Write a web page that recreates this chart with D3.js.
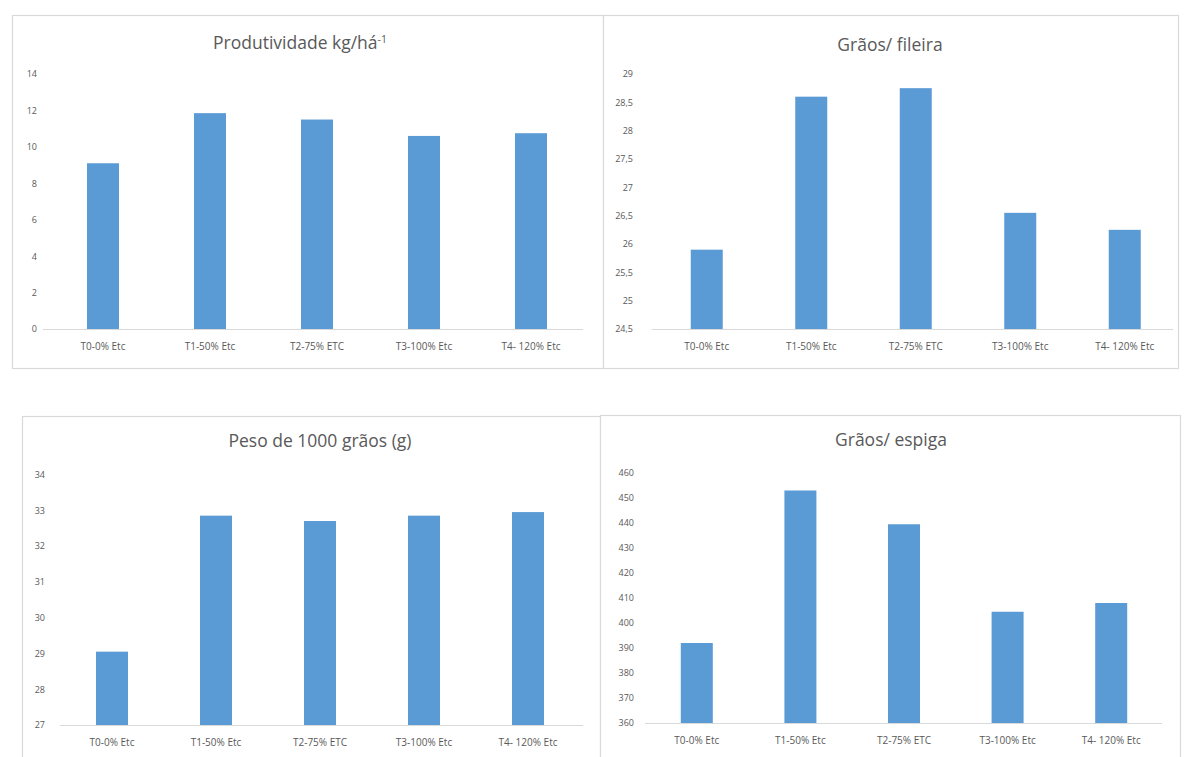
<!DOCTYPE html>
<html>
<head>
<meta charset="utf-8">
<script src="https://cdn.jsdelivr.net/npm/d3@7"></script>
<style>
  html, body { margin: 0; padding: 0; background: #ffffff; }
  svg { display: block; }
  text { font-family: "Open Sans", "Liberation Sans", sans-serif; }
</style>
</head>
<body>
<svg id="chart" width="1184" height="757"></svg>
<script>
// ---- data ----
const categories = ["T0-0% Etc", "T1-50% Etc", "T2-75% ETC", "T3-100% Etc", "T4- 120% Etc"];

const produtividade = [9.1, 11.85, 11.5, 10.6, 10.75];
const graosFileira  = [25.9, 28.6, 28.75, 26.55, 26.25];
const peso1000      = [29.05, 32.85, 32.7, 32.85, 32.95];
const graosEspiga   = [392, 453, 439.5, 404.5, 408];

const ticksProdutividade = [0, 2, 4, 6, 8, 10, 12, 14];
const ticksFileira       = [24.5, 25, 25.5, 26, 26.5, 27, 27.5, 28, 28.5, 29];
const ticksPeso          = [27, 28, 29, 30, 31, 32, 33, 34];
const ticksEspiga        = [360, 370, 380, 390, 400, 410, 420, 430, 440, 450, 460];

const titles = ["Produtividade kg/há", "Grãos/ fileira", "Peso de 1000 grãos (g)", "Grãos/ espiga"];

// ---- layout ----
const svg = d3.select("#chart");
const barColor = "#5b9bd5";
const gridColor = "#d9d9d9";
const textColor = "#595959";
const commaFmt = d => String(d).replace(".", ",");

const panels = [
  { values: produtividade, ticks: ticksProdutividade, title: titles[0], sup: "-1",
    box: [12, 15, 603, 368], titleX: 300, titleY: 49,
    xr: [49.5, 584.5], yr: [329, 74], baseX: [43, 583], labelY: 352, tickX: 37 },
  { values: graosFileira, ticks: ticksFileira, title: titles[1],
    box: [603, 15, 1178, 368], titleX: 890, titleY: 51,
    xr: [654.5, 1177], yr: [329, 74], baseX: [652, 1173], labelY: 352, tickX: 633 },
  { values: peso1000, ticks: ticksPeso, title: titles[2],
    box: [22, 416, 600, 770], titleX: 320, titleY: 447,
    xr: [60, 580], yr: [725, 474.5], baseX: [60, 583], labelY: 748, tickX: 45 },
  { values: graosEspiga, ticks: ticksEspiga, title: titles[3],
    box: [600, 415, 1180, 770], titleX: 891, titleY: 446,
    xr: [645, 1163], yr: [723, 473], baseX: [645, 1162], labelY: 746, tickX: 634 }
];

panels.forEach(p => {
  const g = svg.append("g");
  // panel border
  g.append("rect")
    .attr("x", p.box[0] + 0.5).attr("y", p.box[1] + 0.5)
    .attr("width", p.box[2] - p.box[0]).attr("height", p.box[3] - p.box[1])
    .attr("fill", "#ffffff").attr("stroke", gridColor).attr("stroke-width", 1.2);

  const x = d3.scaleBand().domain(categories).range(p.xr).padding(0);
  const y = d3.scaleLinear()
    .domain([p.ticks[0], p.ticks[p.ticks.length - 1]])
    .range(p.yr);

  // title
  const t = g.append("text")
    .attr("x", p.titleX).attr("y", p.titleY)
    .attr("text-anchor", "middle")
    .attr("font-size", 17.5).attr("fill", textColor)
    .text(p.title);
  if (p.sup) {
    t.append("tspan").attr("dy", -6).attr("font-size", 10.5).text(p.sup);
  }

  // y axis (labels only)
  const yAxis = d3.axisLeft(y).tickValues(p.ticks).tickSize(0).tickPadding(0)
    .tickFormat(commaFmt);
  const ya = g.append("g").attr("transform", `translate(${p.tickX},0)`).call(yAxis);
  ya.select(".domain").remove();
  ya.selectAll("text").attr("font-size", 9).attr("fill", textColor)
    .attr("font-family", "'Open Sans', sans-serif");

  // bars
  const bw = 32;
  g.selectAll("rect.bar").data(p.values).join("rect")
    .attr("class", "bar")
    .attr("x", (d, i) => x(categories[i]) + x.bandwidth() / 2 - bw / 2)
    .attr("width", bw)
    .attr("y", d => y(d))
    .attr("height", d => y(p.ticks[0]) - y(d))
    .attr("fill", barColor);

  // baseline
  g.append("line")
    .attr("x1", p.baseX[0]).attr("x2", p.baseX[1])
    .attr("y1", y(p.ticks[0]) + 0.5).attr("y2", y(p.ticks[0]) + 0.5)
    .attr("stroke", gridColor).attr("stroke-width", 1.2);

  // x axis labels
  const xAxis = d3.axisBottom(x).tickSize(0).tickPadding(0);
  const xa = g.append("g").attr("transform", `translate(0,${p.labelY - 9})`).call(xAxis);
  xa.select(".domain").remove();
  xa.selectAll("text").attr("font-size", 10).attr("fill", textColor)
    .attr("font-family", "'Open Sans', sans-serif");
});
</script>
</body>
</html>
